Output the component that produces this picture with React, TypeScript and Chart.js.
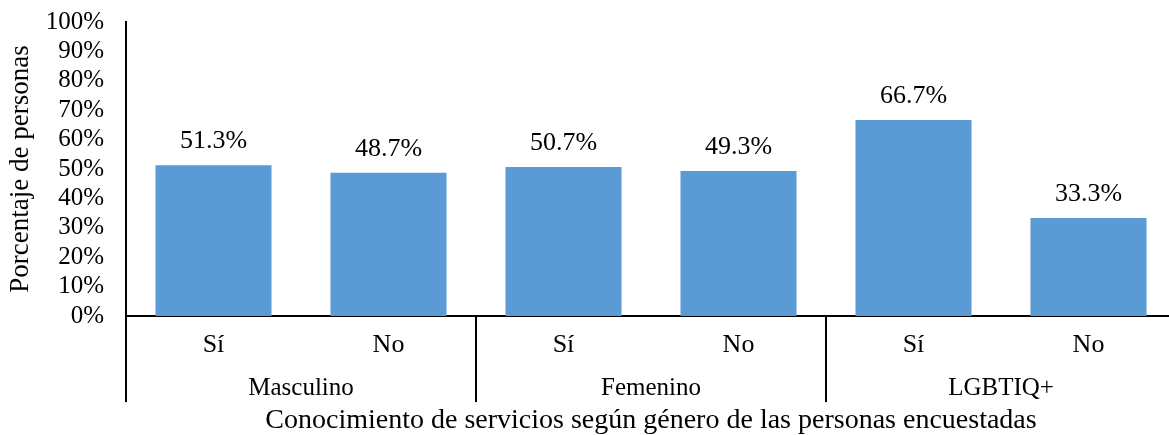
import React, { useEffect, useRef } from "react";
import { Chart, registerables } from "chart.js";

Chart.register(...registerables);

const groups = ["Masculino", "Femenino", "LGBTIQ+"];
const categories = ["Sí", "No", "Sí", "No", "Sí", "No"];
const categoryGroups = [0, 0, 1, 1, 2, 2];
const percentages = [51.3, 48.7, 50.7, 49.3, 66.7, 33.3];
const yMin = 0;
const yMax = 100;
const yStep = 10;
const yAxisTitle = "Porcentaje de personas";
const xAxisTitle = "Conocimiento de servicios según género de las personas encuestadas";

const FONT = '"Liberation Serif", "Times New Roman", serif';

const groupPlugin = {
  id: "groupLabels",
  afterDraw(chart: any) {
    const ctx = chart.ctx;
    const xs = chart.scales.x;
    const area = chart.chartArea;
    ctx.save();
    ctx.strokeStyle = "#000";
    ctx.lineWidth = 2;
    const lineBottom = area.bottom + 86;
    const bounds: number[] = [area.left];
    for (let i = 1; i < categories.length; i++) {
      if (categoryGroups[i] !== categoryGroups[i - 1]) {
        bounds.push(Math.round((xs.getPixelForValue(i - 1) + xs.getPixelForValue(i)) / 2));
      }
    }
    bounds.forEach((b) => {
      ctx.beginPath();
      ctx.moveTo(b, area.bottom);
      ctx.lineTo(b, lineBottom);
      ctx.stroke();
    });
    ctx.fillStyle = "#000";
    ctx.textAlign = "center";
    ctx.textBaseline = "alphabetic";
    ctx.font = `25px ${FONT}`;
    groups.forEach((g, gi) => {
      const px: number[] = [];
      categoryGroups.forEach((cg, i) => {
        if (cg === gi) px.push(xs.getPixelForValue(i));
      });
      const cx = px.reduce((a, b) => a + b, 0) / px.length;
      ctx.fillText(g, cx, area.bottom + 79);
    });
    ctx.font = `28px ${FONT}`;
    ctx.fillText(xAxisTitle, (area.left + area.right) / 2, area.bottom + 112);
    // data labels
    ctx.font = `26px ${FONT}`;
    const meta = chart.getDatasetMeta(0);
    meta.data.forEach((bar: any, i: number) => {
      ctx.fillText(percentages[i].toFixed(1) + "%", bar.x, bar.y - 17);
    });
    ctx.restore();
  },
};

export default function App() {
  const ref = useRef<HTMLCanvasElement | null>(null);
  useEffect(() => {
    if (!ref.current) return;
    const chart = new Chart(ref.current, {
      type: "bar",
      data: {
        labels: categories,
        datasets: [
          {
            data: percentages,
            backgroundColor: "#5B9BD5",
            borderWidth: 0,
            barPercentage: 0.663,
            categoryPercentage: 1,
          },
        ],
      },
      options: {
        animation: false,
        responsive: false,
        devicePixelRatio: 1,
        layout: { padding: { top: 22, right: 4, left: 0, bottom: 0 } },
        plugins: { legend: { display: false }, tooltip: { enabled: false } },
        scales: {
          x: {
            grid: { display: false, drawTicks: false },
            border: { display: true, color: "#000", width: 2 },
            ticks: {
              color: "#000",
              font: { family: FONT, size: 26 },
              padding: 14,
              maxRotation: 0,
              autoSkip: false,
            },
            afterFit: (s: any) => {
              s.height = 119;
            },
          },
          y: {
            min: yMin,
            max: yMax,
            grid: { display: false, drawTicks: true, tickLength: 22 },
            border: { display: true, color: "#000", width: 2 },
            ticks: {
              stepSize: yStep,
              color: "#000",
              font: { family: FONT, size: 25 },
              padding: 0,
              autoSkip: false,
              callback: (v: any) => v + "%",
            },
            title: {
              display: true,
              text: yAxisTitle,
              color: "#000",
              font: { family: FONT, size: 27 },
              padding: { top: 5, bottom: 0 },
            },
            afterFit: (s: any) => {
              s.width = 126;
            },
          },
        },
      },
      plugins: [groupPlugin],
    });
    return () => chart.destroy();
  }, []);
  return (
    <div
      style={{
        position: "fixed",
        left: 0,
        top: 0,
        width: 1169,
        height: 435,
        overflow: "hidden",
        background: "#fff",
      }}
    >
      <canvas ref={ref} width={1180} height={435} style={{ display: "block" }} />
    </div>
  );
}
